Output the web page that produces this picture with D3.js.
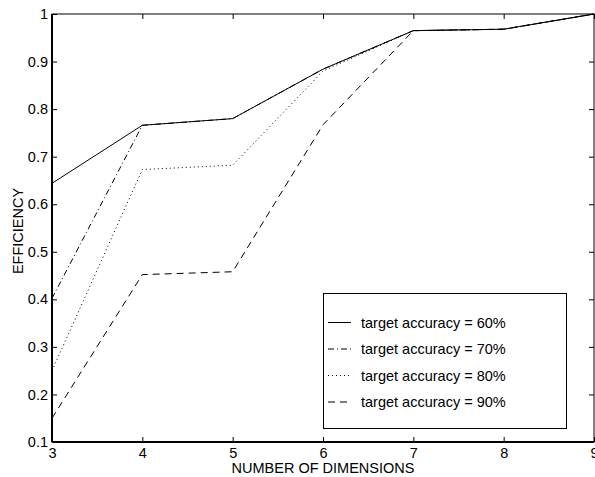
<!DOCTYPE html>
<html><head><meta charset="utf-8">
<script src="https://cdn.jsdelivr.net/npm/d3@7"></script>
<style>body{margin:0;background:#fff}svg{display:block}text{font-family:"Liberation Sans",Arial,sans-serif;fill:#000}</style>
</head><body><svg id="c" width="595" height="477"></svg>
<script>
const dims = [3,4,5,6,7,8,9];
const acc60 = [0.644,0.766,0.780,0.884,0.965,0.968,1.0];
const acc70 = [0.402,0.766,0.780,0.884,0.965,0.968,1.0];
const acc80 = [0.250,0.673,0.682,0.880,0.965,0.968,1.0];
const acc90 = [0.150,0.452,0.458,0.767,0.965,0.968,1.0];
const seriesNames = ["target accuracy = 60%","target accuracy = 70%","target accuracy = 80%","target accuracy = 90%"];
const yTicks = [0.1,0.2,0.3,0.4,0.5,0.6,0.7,0.8,0.9,1];
const xTicks = [3,4,5,6,7,8,9];

const svg = d3.select("#c");
const L=52,R=594,T=14,B=442;
const FS="14.5px";
const x = d3.scaleLinear().domain([3,9]).range([L,R]);
const y = d3.scaleLinear().domain([0.1,1]).range([B,T]);
const dashes = [null,"6,3,1,3","1,3","7,5"];
const data = [acc60,acc70,acc80,acc90];

// frame
svg.append("rect").attr("x",L).attr("y",T).attr("width",R-L).attr("height",B-T)
  .attr("fill","none").attr("stroke","#000").attr("stroke-width",1);
svg.append("line").attr("x1",L).attr("x2",L).attr("y1",T).attr("y2",B).attr("stroke","#000").attr("stroke-width",2);
svg.append("line").attr("x1",L).attr("x2",R).attr("y1",B).attr("y2",B).attr("stroke","#000").attr("stroke-width",2);

const ax = svg.append("g").attr("transform",`translate(0,${B})`)
  .call(d3.axisBottom(x).tickValues(xTicks).tickSize(-5).tickPadding(6).tickFormat(d3.format("d")));
const ax2 = svg.append("g").attr("transform",`translate(0,${T})`)
  .call(d3.axisTop(x).tickValues(xTicks).tickSize(-5).tickFormat(""));
const ay = svg.append("g").attr("transform",`translate(${L},0)`)
  .call(d3.axisLeft(y).tickValues(yTicks).tickSize(-5).tickPadding(4).tickFormat(d=>d===1?"1":d3.format(".1f")(d)));
const ay2 = svg.append("g").attr("transform",`translate(${R},0)`)
  .call(d3.axisRight(y).tickValues(yTicks).tickSize(-5).tickFormat(""));
[ax,ax2,ay,ay2].forEach(g=>{g.select(".domain").remove();g.selectAll("line").attr("stroke","#000");g.selectAll("text").style("font-size",FS).attr("font-family",null);});

svg.append("text").attr("x",323).attr("y",473).attr("text-anchor","middle").style("font-size",FS).text("NUMBER OF DIMENSIONS");
svg.append("text").attr("transform",`translate(23,231) rotate(-90)`).attr("text-anchor","middle").style("font-size",FS).text("EFFICIENCY");

const line = d3.line().x((d,i)=>x(dims[i])).y(d=>y(d));
data.forEach((s,k)=>{
  svg.append("path").datum(s).attr("d",line).attr("fill","none").attr("stroke","#000")
    .attr("stroke-width",1).attr("stroke-dasharray",dashes[k]);
});

// legend
const lg = svg.append("g");
lg.append("rect").attr("x",323.5).attr("y",293.5).attr("width",243).attr("height",135).attr("fill","#fff").attr("stroke","#000").attr("stroke-width",1);
seriesNames.forEach((n,k)=>{
  const yy = 322.5 + k*26.5;
  lg.append("line").attr("x1",328).attr("x2",351).attr("y1",yy).attr("y2",yy).attr("stroke","#000").attr("stroke-dasharray",dashes[k]);
  lg.append("text").attr("x",361).attr("y",yy).attr("dy","0.35em").style("font-size",FS).text(n);
});
</script></body></html>
